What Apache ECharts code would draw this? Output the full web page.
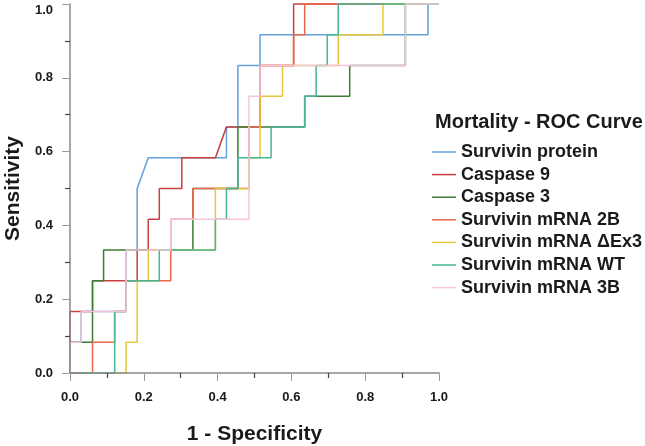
<!DOCTYPE html>
<html>
<head>
<meta charset="utf-8">
<script src="https://cdn.jsdelivr.net/npm/echarts@6/dist/echarts.min.js"></script>
<style>
  html, body { margin: 0; padding: 0; background: #ffffff; }
  #chart { width: 645px; height: 446px; }
</style>
</head>
<body>
<div id="chart"></div>
<script>
// Series names (legend order)
const seriesNames = ['Survivin protein', 'Caspase 9', 'Caspase 3', 'Survivin mRNA 2B', 'Survivin mRNA \u0394Ex3', 'Survivin mRNA WT', 'Survivin mRNA 3B'];

// Axis tick labels
const tickValues = [0, 0.2, 0.4, 0.6, 0.8, 1.0];

// ROC curve vertices: 1 - specificity (x) and sensitivity (y)
const survivinProteinX = [0, 0, 0.030, 0.030, 0.152, 0.152, 0.182, 0.182, 0.212, 0.424, 0.424, 0.455, 0.455, 0.515, 0.515, 0.970, 0.970, 1];
const survivinProteinY = [0, 0.083, 0.083, 0.167, 0.167, 0.333, 0.333, 0.500, 0.583, 0.583, 0.667, 0.667, 0.833, 0.833, 0.917, 0.917, 1, 1];

const caspase9X = [0, 0, 0.061, 0.061, 0.182, 0.182, 0.212, 0.212, 0.242, 0.242, 0.303, 0.303, 0.394, 0.424, 0.515, 0.515, 0.606, 0.606, 1];
const caspase9Y = [0, 0.167, 0.167, 0.250, 0.250, 0.333, 0.333, 0.417, 0.417, 0.500, 0.500, 0.583, 0.583, 0.667, 0.667, 0.833, 0.833, 1, 1];

const caspase3X = [0, 0, 0.061, 0.061, 0.091, 0.091, 0.333, 0.333, 0.455, 0.455, 0.636, 0.636, 0.758, 0.758, 0.909, 0.909, 1];
const caspase3Y = [0, 0.083, 0.083, 0.250, 0.250, 0.333, 0.333, 0.500, 0.500, 0.667, 0.667, 0.750, 0.750, 0.833, 0.833, 1, 1];

const mrna2BX = [0, 0.061, 0.061, 0.121, 0.121, 0.152, 0.152, 0.273, 0.273, 0.333, 0.333, 0.485, 0.485, 0.515, 0.515, 0.606, 0.606, 0.636, 0.636, 1];
const mrna2BY = [0, 0, 0.083, 0.083, 0.167, 0.167, 0.250, 0.250, 0.417, 0.417, 0.500, 0.500, 0.667, 0.667, 0.833, 0.833, 0.917, 0.917, 1, 1];

const mrnaDEx3X = [0, 0.152, 0.152, 0.182, 0.182, 0.212, 0.212, 0.394, 0.394, 0.485, 0.485, 0.515, 0.515, 0.576, 0.576, 0.727, 0.727, 0.848, 0.848, 1];
const mrnaDEx3Y = [0, 0, 0.083, 0.083, 0.250, 0.250, 0.333, 0.333, 0.500, 0.500, 0.583, 0.583, 0.750, 0.750, 0.833, 0.833, 0.917, 0.917, 1, 1];

const mrnaWTX = [0, 0.121, 0.121, 0.152, 0.152, 0.242, 0.242, 0.394, 0.394, 0.424, 0.424, 0.455, 0.455, 0.545, 0.545, 0.636, 0.636, 0.667, 0.667, 0.697, 0.697, 0.727, 0.727, 1];
const mrnaWTY = [0, 0, 0.167, 0.167, 0.250, 0.250, 0.333, 0.333, 0.417, 0.417, 0.500, 0.500, 0.583, 0.583, 0.667, 0.667, 0.750, 0.750, 0.833, 0.833, 0.917, 0.917, 1, 1];

const mrna3BX = [0, 0, 0.030, 0.030, 0.152, 0.152, 0.273, 0.273, 0.485, 0.485, 0.515, 0.515, 0.909, 0.909, 1];
const mrna3BY = [0, 0.083, 0.083, 0.167, 0.167, 0.333, 0.333, 0.417, 0.417, 0.750, 0.750, 0.833, 0.833, 1, 1];

const colors = ['#64a0da', '#c9403f', '#3c7d34', '#f0664a', '#e6c73c', '#48b595', '#f4c5da'];

const curves = [
  [survivinProteinX, survivinProteinY],
  [caspase9X, caspase9Y],
  [caspase3X, caspase3Y],
  [mrna2BX, mrna2BY],
  [mrnaDEx3X, mrnaDEx3Y],
  [mrnaWTX, mrnaWTY],
  [mrna3BX, mrna3BY]
];

const FONT = '"Liberation Sans", Arial, Helvetica, sans-serif';
const TEXT = '#1a1a1a';

const series = curves.map(function (c, i) {
  return {
    name: seriesNames[i],
    type: 'line',
    data: c[0].map(function (x, k) { return [x, c[1][k]]; }),
    symbol: 'none',
    showSymbol: false,
    clip: false,
    lineStyle: { width: 1.5, color: colors[i] },
    itemStyle: { color: colors[i] },
    emphasis: { disabled: true },
    z: 2
  };
});

function axisCommon(name, nameGap, labelMargin) {
  return {
    type: 'value',
    min: 0,
    max: 1,
    interval: 0.2,
    name: name,
    nameLocation: 'middle',
    nameGap: nameGap,
    nameTextStyle: { fontSize: 21, fontWeight: 'bold', color: TEXT, fontFamily: FONT },
    axisLine: { show: true, lineStyle: { color: '#8a8a8a', width: 1.5 } },
    axisTick: { show: true, length: 8, lineStyle: { color: '#9a9a9a', width: 1 } },
    minorTick: { show: true, splitNumber: 2, length: 5, lineStyle: { color: '#444444', width: 1.2 } },
    splitLine: { show: false },
    axisLabel: {
      margin: labelMargin,
      fontSize: 13,
      fontWeight: 'bold',
      color: TEXT,
      fontFamily: FONT,
      formatter: function (v) { return tickValues.indexOf(v) >= 0 ? v.toFixed(1) : ''; }
    },
    z: 5
  };
}

const xAxisOpt = axisCommon('1 - Specificity', 51, 18);
const yAxisOpt = axisCommon('Sensitivity', 46, 17);
yAxisOpt.axisLabel.verticalAlignMaxLabel = 'top';

const chart = echarts.init(document.getElementById('chart'), null, { renderer: 'canvas' });
chart.setOption({
  animation: false,
  backgroundColor: '#ffffff',
  color: colors,
  title: {
    text: 'Mortality - ROC Curve',
    left: 435,
    top: 112,
    padding: 0,
    textStyle: { fontSize: 20, fontWeight: 'bold', color: TEXT, fontFamily: FONT }
  },
  legend: {
    orient: 'vertical',
    left: 432,
    top: 143,
    padding: 0,
    icon: 'rect',
    itemWidth: 24,
    itemHeight: 1.5,
    itemGap: 4.6,
    selectedMode: false,
    data: seriesNames,
    textStyle: { fontSize: 18, fontWeight: 'bold', color: TEXT, fontFamily: FONT, lineHeight: 18 }
  },
  grid: { left: 70, right: 206, top: 4, bottom: 73, containLabel: false, outerBoundsMode: 'none' },
  xAxis: xAxisOpt,
  yAxis: yAxisOpt,
  series: series
});
</script>
</body>
</html>
